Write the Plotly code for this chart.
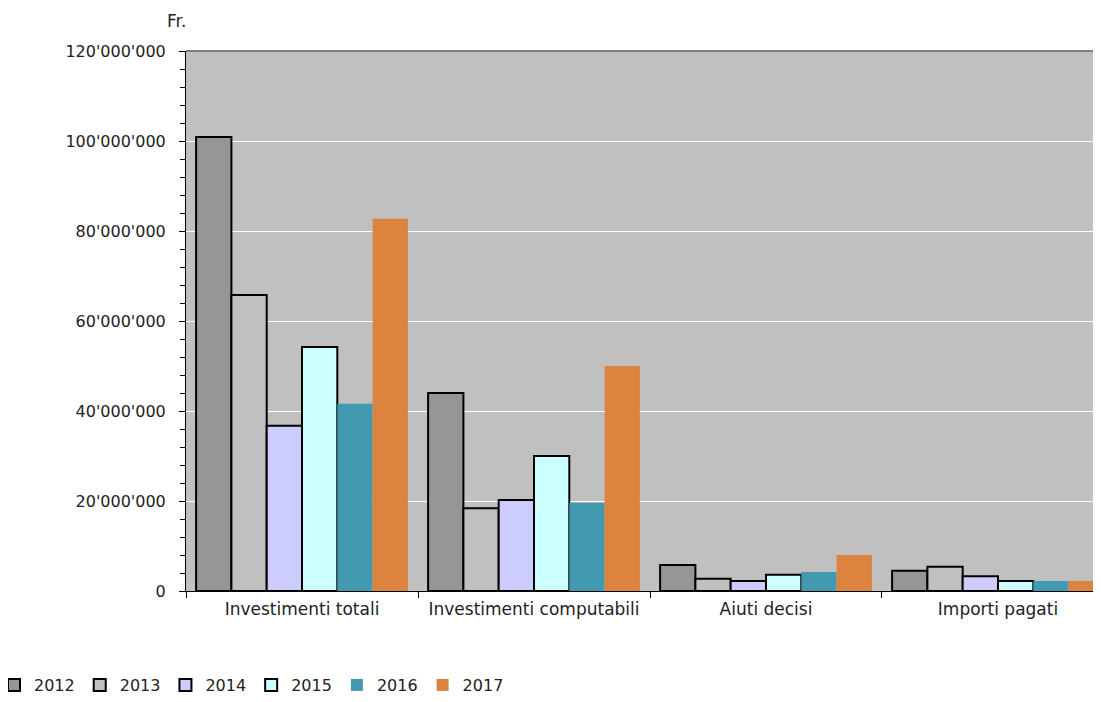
import plotly.graph_objects as go

categories = ["Investimenti totali", "Investimenti computabili", "Aiuti decisi", "Importi pagati"]
years = ["2012", "2013", "2014", "2015", "2016", "2017"]
v2012 = [100.9e6, 44.0e6, 5.8e6, 4.5e6]
v2013 = [65.8e6, 18.4e6, 2.7e6, 5.4e6]
v2014 = [36.7e6, 20.2e6, 2.2e6, 3.3e6]
v2015 = [54.2e6, 30.0e6, 3.6e6, 2.2e6]
v2016 = [41.6e6, 19.6e6, 4.2e6, 2.2e6]
v2017 = [82.7e6, 50.0e6, 8.0e6, 2.2e6]
series = [v2012, v2013, v2014, v2015, v2016, v2017]
fills = ["#969696", "#c0c0c0", "#ccccff", "#ccffff", "#4399b0", "#dc843f"]
borders = [2, 2, 2, 2, 0, 0]

tickvals = [0, 20e6, 40e6, 60e6, 80e6, 100e6, 120e6]
ticktext = ["0", "20'000'000", "40'000'000", "60'000'000", "80'000'000", "100'000'000", "120'000'000"]

FONT = "DejaVu Sans, Verdana, sans-serif"
TXT = "#222222"

# page body has an 8px margin; compensate so the plot lands where the reference has it
OFF = 8
L, T, PW, PH = 186 - OFF, 51 - OFF, 915, 540
W, H = 1101 - OFF, 702 - OFF
B = H - T - PH

fig = go.Figure()
for y, vals, c, bw in zip(years, series, fills, borders):
    fig.add_trace(go.Bar(
        x=categories, y=vals, name=y,
        marker=dict(color=c, line=dict(color="black", width=bw)),
    ))

fig.update_layout(
    width=W, height=H,
    margin=dict(l=L, r=W - L - PW, t=T, b=B, autoexpand=False),
    paper_bgcolor="white", plot_bgcolor="#c0c0c0",
    barmode="group", bargap=0.087, bargroupgap=0,
    font=dict(family=FONT, size=16, color=TXT),
    showlegend=True,
    legend=dict(orientation="h", x=-(L + 14) / PW, xanchor="left",
                y=-B / PH, yanchor="bottom",
                font=dict(family=FONT, size=16, color=TXT), itemwidth=30,
                tracegroupgap=0, bgcolor="rgba(0,0,0,0)"),
    xaxis=dict(type="category", range=[-0.5, 3.444], showline=True, linecolor="black",
               linewidth=1, ticks="outside", tickson="boundaries", ticklen=6,
               tickcolor="black", showgrid=False, ticklabelstandoff=3, tickangle=0,
               tickfont=dict(family=FONT, size=17, color=TXT), automargin=False),
    yaxis=dict(range=[0, 120e6], tickvals=tickvals, ticktext=ticktext,
               showline=True, linecolor="black", linewidth=1,
               ticks="outside", ticklen=6, tickcolor="black",
               showgrid=True, gridcolor="white", gridwidth=1, zeroline=False,
               ticklabelstandoff=10, automargin=False,
               tickfont=dict(family=FONT, size=16, color=TXT),
               minor=dict(dtick=4e6, tick0=0, ticks="outside", ticklen=5,
                          tickcolor="black", showgrid=False)),
    shapes=[dict(type="line", xref="paper", yref="paper", x0=0, x1=1, y0=1, y1=1,
                 line=dict(color="#808080", width=2))],
    annotations=[dict(text="Fr.", xref="paper", yref="paper", x=2 / PW, y=1.056,
                      xanchor="right", yanchor="middle", showarrow=False,
                      font=dict(family=FONT, size=17, color=TXT))],
)

fig.write_html("out.html")
